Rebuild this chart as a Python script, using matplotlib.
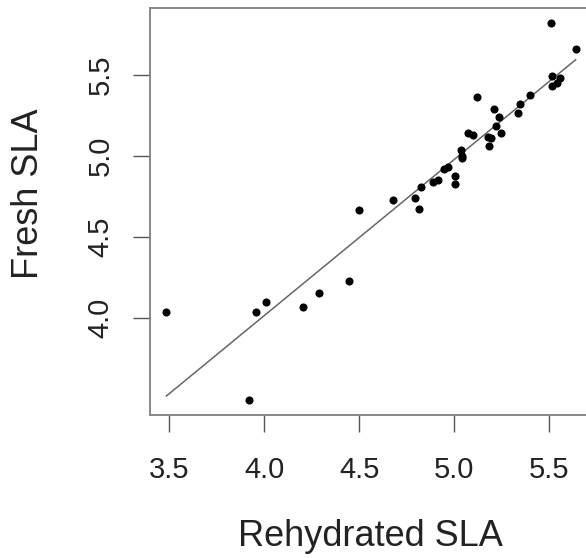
import matplotlib
matplotlib.use("Agg")
import matplotlib.pyplot as plt
import numpy as np

# Rehydrated vs fresh SLA readings
rehydrated = [3.484, 3.918, 3.954, 4.010, 4.203, 4.291, 4.448, 4.498, 4.680, 4.796,
              4.815, 4.825, 4.887, 4.916, 4.948, 4.968, 5.003, 5.004, 5.035, 5.040,
              5.042, 5.076, 5.098, 5.123, 5.178, 5.193, 5.183, 5.212, 5.219, 5.237,
              5.246, 5.335, 5.350, 5.402, 5.513, 5.641, 5.516, 5.560, 5.519, 5.541]
fresh = [4.037, 3.497, 4.039, 4.100, 4.070, 4.156, 4.230, 4.669, 4.729, 4.744,
         4.675, 4.807, 4.840, 4.854, 4.918, 4.934, 4.879, 4.827, 5.040, 5.000,
         4.986, 5.144, 5.131, 5.362, 5.117, 5.109, 5.060, 5.290, 5.186, 5.240,
         5.145, 5.263, 5.320, 5.374, 5.820, 5.658, 5.496, 5.483, 5.432, 5.448]

xticks = [3.5, 4.0, 4.5, 5.0, 5.5]
yticks = [4.0, 4.5, 5.0, 5.5]

plt.rcParams['font.family'] = ['Liberation Sans', 'DejaVu Sans']

W, H = 586, 558
fig = plt.figure(figsize=(W / 100, H / 100), dpi=100)
# plot box in pixels: left 150, top 8, bottom 415, extends past the right edge
ax = fig.add_axes([150 / W, (H - 415) / H, 442 / W, 407 / H])

x = np.array(rehydrated)
y = np.array(fresh)
ax.scatter(x, y, s=34, color='black', linewidths=0, zorder=3)

# least squares fit, drawn over the data range
slope, icpt = np.polyfit(x, y, 1)
xs = np.array([x.min(), x.max()])
ax.plot(xs, icpt + slope * xs, color='#666666', lw=1.1, zorder=2)

# R style 4% padding
xr = x.max() - x.min()
yr = y.max() - y.min()
ax.set_xlim(x.min() - 0.04 * xr, x.max() + 0.04 * xr)
ax.set_ylim(y.min() - 0.04 * yr, y.max() + 0.04 * yr)

ax.set_xticks(xticks)
ax.set_xticklabels([f"{t:.1f}" for t in xticks])
ax.set_yticks(yticks)
ax.set_yticklabels([f"{t:.1f}" for t in yticks], rotation=90, va='center')
ax.tick_params(axis='both', length=12.5, width=1.0, color='#555555',
               labelsize=21, labelcolor='#222222')
ax.tick_params(axis='x', pad=17)
ax.tick_params(axis='y', pad=13)
for sp in ax.spines.values():
    sp.set_color('#888888')
    sp.set_linewidth(1.4)

fig.text(370 / W, 1 - 537 / H, "Rehydrated SLA", fontsize=26, color='#222222',
         ha='center', va='center')
fig.text(28 / W, 1 - 194 / H, "Fresh SLA", fontsize=26, color='#222222',
         ha='center', va='center', rotation=90)

fig.savefig("out.png", dpi=100)
